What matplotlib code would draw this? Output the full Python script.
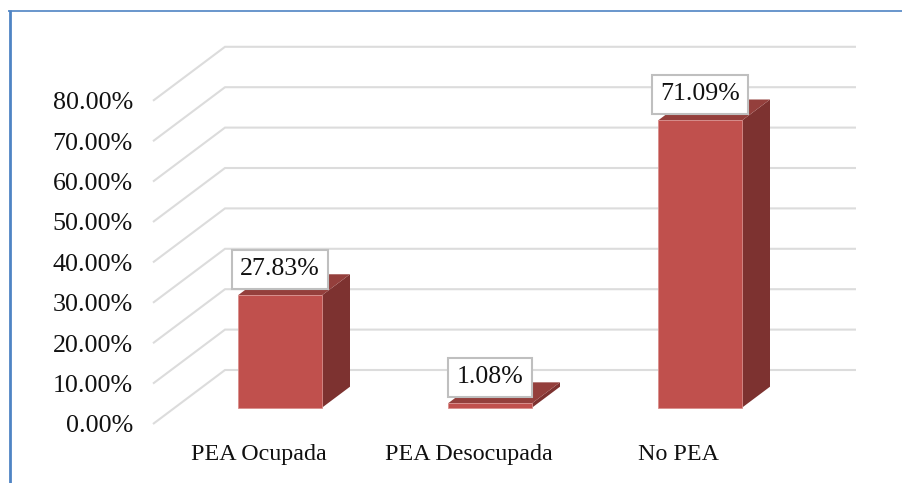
import matplotlib
matplotlib.use("Agg")
import matplotlib.pyplot as plt
from matplotlib.patches import Polygon, Rectangle

categories = ["PEA Ocupada", "PEA Desocupada", "No PEA"]
values = [27.83, 1.08, 71.09]
ticks = [0, 10, 20, 30, 40, 50, 60, 70, 80]

W, H = 902, 483
PX_CAT, PX_PCT = 210.0, 4.04      # pixels per category / per percent
X0_PX, Y0_PX = 280.0, 407.7       # pixel of first bar centre / bar base
FONT = "Liberation Serif"
FS_TICK, FS_CAT, FS_LABEL = 18.7, 17.3, 18.6
RED, SIDE, TOP = "#C0504D", "#7D3230", "#943F3C"
GRID = "#DCDCDC"
BLUE = "#4F84C4"

fig = plt.figure(figsize=(W / 100, H / 100), dpi=100)
ax = fig.add_axes([0, 0, 1, 1])
ax.set_xlim(-X0_PX / PX_CAT, (W - X0_PX) / PX_CAT)
ax.set_ylim((Y0_PX - H) / PX_PCT, Y0_PX / PX_PCT)
ax.axis("off")

def px_x(p):  # pixel -> data
    return (p - X0_PX) / PX_CAT

def dy(p):  # pixel distance -> percent
    return p / PX_PCT

# walls: gridlines
xf, xb, xr = px_x(153), px_x(225), px_x(856)
for t in ticks:
    yf, yb = t - dy(16.3), t + dy(37.7)
    ax.plot([xf, xb, xr], [yf, yb, yb], color=GRID, lw=1.5, zorder=1,
            solid_joinstyle="miter", solid_capstyle="butt")
    ax.text(px_x(133), yf - dy(2.5), f"{t:.2f}%", ha="right", va="center",
            family=FONT, fontsize=FS_TICK, color="#111111", zorder=5)

# bars
bw = 84 / PX_CAT
ddx, ddy = 28 / PX_CAT, dy(21)
for i, (c, v) in enumerate(zip(categories, values)):
    l, r = i - bw / 2, i + bw / 2
    ax.add_patch(Polygon([(r, 0), (r + ddx, ddy), (r + ddx, v + ddy), (r, v)],
                         facecolor=SIDE, edgecolor="none", zorder=2))
    ax.add_patch(Polygon([(l, v), (r, v), (r + ddx, v + ddy), (l + ddx, v + ddy)],
                         facecolor=TOP, edgecolor="none", zorder=2))
    ax.add_patch(Rectangle((l, 0), bw, v, facecolor=RED, edgecolor="#D98F8D",
                           lw=0.6, zorder=3))
    ax.text(i, v + dy(26), f"{v:.2f}%", ha="center", va="center", family=FONT,
            fontsize=FS_LABEL, color="#111111", zorder=6,
            bbox=dict(boxstyle="square,pad=0.32", facecolor="white",
                      edgecolor="#BFBFBF", linewidth=1.5))
    ax.text(i - 21 / PX_CAT, -dy(47), c, ha="center", va="center", family=FONT,
            fontsize=FS_CAT, color="#111111", zorder=5)

# outer frame
ax.plot([px_x(9.7), px_x(9.7)], [(Y0_PX - H) / PX_PCT, dy(Y0_PX - 10.2)],
        color=BLUE, lw=2.0, zorder=7, solid_capstyle="butt")
ax.plot([px_x(8.4), px_x(W)], [dy(Y0_PX - 10.8)] * 2, color=BLUE, lw=1.2,
        zorder=7, solid_capstyle="butt")

fig.savefig("out.png", dpi=100, facecolor="white")
